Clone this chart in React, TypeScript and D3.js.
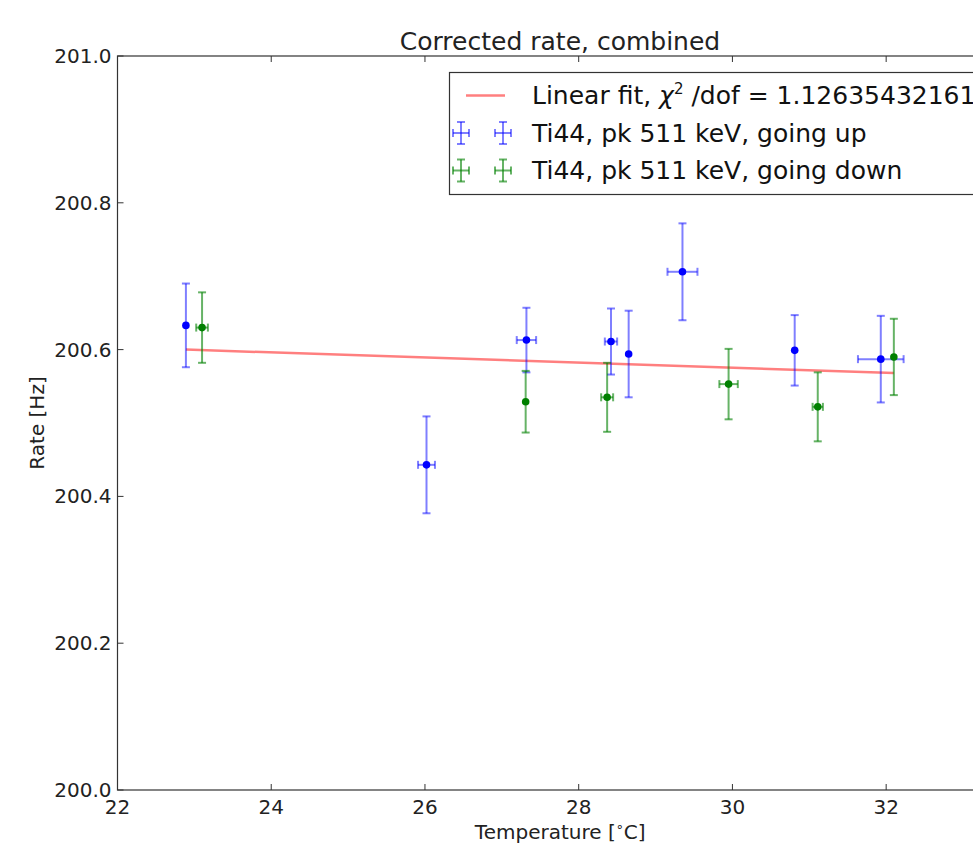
import React from 'react';
import * as d3 from 'd3';

// Ti44, pk 511 keV, going up
const upTemp = [22.89, 26.02, 27.32, 28.42, 28.65, 29.35, 30.81, 31.93];
const upTempErr = [0, 0.11, 0.126, 0.08, 0, 0.195, 0, 0.297];
const upRate = [200.633, 200.443, 200.613, 200.611, 200.594, 200.706, 200.599, 200.587];
const upRateErr = [0.057, 0.066, 0.044, 0.045, 0.059, 0.066, 0.048, 0.059];

// Ti44, pk 511 keV, going down
const downTemp = [23.1, 27.31, 28.37, 29.95, 31.11, 32.1];
const downTempErr = [0.076, 0, 0.078, 0.12, 0.067, 0];
const downRate = [200.63, 200.529, 200.535, 200.553, 200.522, 200.59];
const downRateErr = [0.048, 0.042, 0.047, 0.048, 0.047, 0.052];

// linear fit endpoints
const fitTemp = [22.89, 32.1];
const fitRate = [200.6, 200.568];

const xTicks = [22, 24, 26, 28, 30, 32];
const yTicks = [200.0, 200.2, 200.4, 200.6, 200.8, 201.0];

const W = 973;
const H = 846;
const margin = { top: 56, right: -30, bottom: 56, left: 117.5 };
const FONT = 'DejaVu Sans, sans-serif';

const x = d3.scaleLinear().domain([22, 33.52]).range([margin.left, W - margin.right]);
const y = d3.scaleLinear().domain([200, 201]).range([H - margin.bottom, margin.top]);

type Pt = { t: number; te: number; r: number; re: number };

const zipSeries = (t: number[], te: number[], r: number[], re: number[]): Pt[] =>
  t.map((v, i) => ({ t: v, te: te[i], r: r[i], re: re[i] }));

const ErrorSeries = ({ pts, bar, marker, opacity }: { pts: Pt[]; bar: string; marker: string; opacity: number }) => (
  <g>
    {pts.map((p, i) => {
      const cx = x(p.t);
      const cy = y(p.r);
      const y0 = y(p.r - p.re);
      const y1 = y(p.r + p.re);
      const x0 = x(p.t - p.te);
      const x1 = x(p.t + p.te);
      const cap = 4;
      return (
        <g key={i}>
          <g stroke={bar} strokeWidth={2} strokeOpacity={opacity} fill="none">
            <line x1={cx} x2={cx} y1={y0} y2={y1} />
            <line x1={cx - cap} x2={cx + cap} y1={y0} y2={y0} />
            <line x1={cx - cap} x2={cx + cap} y1={y1} y2={y1} />
            {p.te > 0 && (
              <>
                <line x1={x0} x2={x1} y1={cy} y2={cy} />
                <line x1={x0} x2={x0} y1={cy - cap} y2={cy + cap} />
                <line x1={x1} x2={x1} y1={cy - cap} y2={cy + cap} />
              </>
            )}
          </g>
          <circle cx={cx} cy={cy} r={3.8} fill={marker} />
        </g>
      );
    })}
  </g>
);

const LegendCross = ({ cx, cy, color, opacity }: { cx: number; cy: number; color: string; opacity: number }) => {
  const hw = 8;
  const hh = 11;
  const cap = 4;
  return (
    <g stroke={color} strokeOpacity={opacity} strokeWidth={2}>
      <line x1={cx - hw} x2={cx + hw} y1={cy} y2={cy} />
      <line x1={cx - hw} x2={cx - hw} y1={cy - cap} y2={cy + cap} />
      <line x1={cx + hw} x2={cx + hw} y1={cy - cap} y2={cy + cap} />
      <line x1={cx} x2={cx} y1={cy - hh} y2={cy + hh} />
      <line x1={cx - cap} x2={cx + cap} y1={cy - hh} y2={cy - hh} />
      <line x1={cx - cap} x2={cx + cap} y1={cy + hh} y2={cy + hh} />
    </g>
  );
};

export default function App() {
  const up = zipSeries(upTemp, upTempErr, upRate, upRateErr);
  const down = zipSeries(downTemp, downTempErr, downRate, downRateErr);
  const fitLine = d3
    .line<number>()
    .x((d) => x(d))
    .y((_, i) => y(fitRate[i]));

  const left = margin.left;
  const right = W - margin.right;
  const top = margin.top;
  const bottom = H - margin.bottom;
  const tickLen = 6;

  const legX = 449.5;
  const legY = 72.5;
  const rowH = 37.5;

  return (
    <svg
      width={W}
      height={H}
      style={{ position: 'absolute', left: 0, top: 0, background: '#fff', fontFamily: FONT }}
    >
      <rect x={0} y={0} width={W} height={H} fill="#fff" />

      {/* title */}
      <text x={560} y={50} textAnchor="middle" fontSize={25} fill="#222">
        Corrected rate, combined
      </text>

      {/* fit */}
      <path d={fitLine(fitTemp) || ''} stroke="#ff0000" strokeOpacity={0.5} strokeWidth={2.5} fill="none" />

      <ErrorSeries pts={up} bar="#0000ff" marker="#0000ff" opacity={0.5} />
      <ErrorSeries pts={down} bar="#008000" marker="#008000" opacity={0.6} />

      {/* axes frame */}
      <rect x={left} y={top} width={right - left} height={bottom - top} fill="none" stroke="#333" strokeWidth={1.2} />

      {/* x ticks */}
      {xTicks.map((t) => (
        <g key={t}>
          <line x1={x(t)} x2={x(t)} y1={bottom} y2={bottom - tickLen} stroke="#333" />
          <line x1={x(t)} x2={x(t)} y1={top} y2={top + tickLen} stroke="#333" />
          <text x={x(t)} y={814} textAnchor="middle" fontSize={20} fill="#222">
            {t}
          </text>
        </g>
      ))}

      {/* y ticks */}
      {yTicks.map((t) => (
        <g key={t}>
          <line x1={left} x2={left + tickLen} y1={y(t)} y2={y(t)} stroke="#333" />
          <text x={left - 6} y={y(t)} dy="0.35em" textAnchor="end" fontSize={20} fill="#222">
            {d3.format('.1f')(t)}
          </text>
        </g>
      ))}

      {/* axis labels */}
      <text x={(left + right) / 2} y={839} textAnchor="middle" fontSize={20} fill="#222">
        Temperature [<tspan fontSize={13} dy={-8}>∘</tspan>
        <tspan dy={8}>C]</tspan>
      </text>
      <text
        transform={`translate(44, ${(top + bottom) / 2}) rotate(-90)`}
        textAnchor="middle"
        fontSize={20}
        fill="#222"
      >
        Rate [Hz]
      </text>

      {/* legend */}
      <rect x={legX} y={legY} width={W} height={122} fill="#fff" stroke="#333" strokeWidth={1.2} />
      <line x1={466} x2={505} y1={legY + 23} y2={legY + 23} stroke="#ff0000" strokeOpacity={0.5} strokeWidth={2.5} />
      <text x={532} y={legY + 23} dy="0.35em" fontSize={25} fill="#111">
        Linear fit, <tspan fontStyle="italic">χ</tspan>
        <tspan fontSize={15} dy={-10}>2</tspan>
        <tspan dy={10}> /dof = 1.12635432161</tspan>
      </text>
      <LegendCross cx={461} cy={legY + 23 + rowH} color="#0000ff" opacity={0.5} />
      <LegendCross cx={503} cy={legY + 23 + rowH} color="#0000ff" opacity={0.5} />
      <text x={532} y={legY + 23 + rowH} dy="0.35em" fontSize={25} fill="#111">
        Ti44, pk 511 keV, going up
      </text>
      <LegendCross cx={461} cy={legY + 23 + 2 * rowH} color="#008000" opacity={0.6} />
      <LegendCross cx={503} cy={legY + 23 + 2 * rowH} color="#008000" opacity={0.6} />
      <text x={532} y={legY + 23 + 2 * rowH} dy="0.35em" fontSize={25} fill="#111">
        Ti44, pk 511 keV, going down
      </text>
    </svg>
  );
}
